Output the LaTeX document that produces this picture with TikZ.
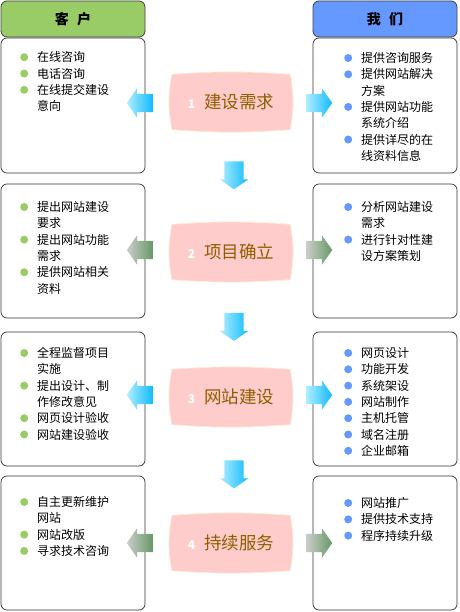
\documentclass[tikz,border=0pt]{standalone}
\usepackage{fontspec}
\setmainfont{Noto Sans CJK SC}
\usetikzlibrary{shapes.arrows, backgrounds, positioning}

\definecolor{cliGreen}{HTML}{99CC66}
\definecolor{ourBlue}{HTML}{6699FF}
\definecolor{stagePink}{HTML}{FFCCCC}
\definecolor{stageEdge}{HTML}{FFEECC}
\definecolor{stageBrown}{HTML}{8F5E00}
\definecolor{arrCyan}{HTML}{11BBFF}
\definecolor{arrPale}{HTML}{B0EEFF}
\definecolor{arrGreen}{HTML}{669966}

\newcommand{\bul}[1]{\tikz[baseline=-4.6pt]\fill[#1] (0,0) circle (4pt);}
\newcommand{\gb}{\bul{cliGreen}}
\newcommand{\bb}{\bul{ourBlue}}
\newcommand{\stnum}[1]{{\color{white}\fontsize{12}{12}\selectfont\bfseries #1}\hspace{9pt}}

\begin{document}
\begin{tikzpicture}[x=1pt, y=-1pt,
  hdr/.style={draw=black!75, line width=0.8pt, rounded corners=6pt,
    minimum width=144pt, minimum height=36pt, font=\fontsize{14}{14}\selectfont\bfseries},
  panel/.style={draw=black!80, line width=0.7pt, rounded corners=6pt,
    minimum width=144pt, minimum height=134pt},
  items/.style={anchor=north west, inner sep=0pt, font=\fontsize{12}{16.3}\selectfont},
  stage/.style={minimum width=118pt, minimum height=55pt, inner sep=0pt,
    text=stageBrown, font=\fontsize{17.5}{20}\selectfont},
  pillow/.style={fill=stagePink, draw=stageEdge, line width=0.6pt},
  sidearrow/.style={single arrow, minimum height=26pt, inner xsep=0pt, inner ysep=9pt,
    single arrow head extend=5.5pt, single arrow tip angle=110},
  blueshade/.style={left color=arrPale, middle color=arrCyan, right color=arrCyan},
  greenshade/.style={left color=gray!40, middle color=arrGreen!75!gray, right color=arrGreen},
  downarrow/.style={sidearrow, rotate=-90, minimum height=28pt, inner ysep=9.5pt,
    single arrow head extend=4.5pt, left color=arrPale, middle color=arrCyan!70!arrPale,
    right color=arrCyan}]
\useasboundingbox (0,0) rectangle (459,612);

% Headers
\node[hdr, fill=cliGreen] (hdrL) at (73,19) {客\hspace{0.6em}户};
\node[hdr, fill=ourBlue] (hdrR) at (385,19) {我\hspace{0.6em}们};

% Client panels
\node[panel, minimum height=135pt] (cliA) at (73,105.5) {};
\node[panel] (cliB) at (73,251) {};
\node[panel] (cliC) at (73,399) {};
\node[panel] (cliD) at (73,543) {};

% Our panels
\node[panel, minimum height=135pt] (ourA) at (385,105.5) {};
\node[panel] (ourB) at (385,251) {};
\node[panel] (ourC) at (385,399) {};
\node[panel] (ourD) at (385,543) {};

% Client lists
\node[items] (listLA) at (20,50.2) {\begin{tabular}{@{}l@{\hspace{9pt}}l@{}}
\gb & 在线咨询\\
\gb & 电话咨询\\
\gb & 在线提交建设\\
    & 意向
\end{tabular}};
\node[items] (listLB) at (20,200) {\begin{tabular}{@{}l@{\hspace{9pt}}l@{}}
\gb & 提出网站建设\\
    & 要求\\
\gb & 提出网站功能\\
    & 需求\\
\gb & 提供网站相关\\
    & 资料
\end{tabular}};
\node[items] (listLC) at (20,346) {\begin{tabular}{@{}l@{\hspace{9pt}}l@{}}
\gb & 全程监督项目\\
    & 实施\\
\gb & 提出设计、制\\
    & 作修改意见\\
\gb & 网页设计验收\\
\gb & 网站建设验收
\end{tabular}};
\node[items] (listLD) at (20,495) {\begin{tabular}{@{}l@{\hspace{9pt}}l@{}}
\gb & 自主更新维护\\
    & 网站\\
\gb & 网站改版\\
\gb & 寻求技术咨询
\end{tabular}};

% Our lists
\node[items] (listRA) at (344,51) {\begin{tabular}{@{}l@{\hspace{9pt}}l@{}}
\bb & 提供咨询服务\\
\bb & 提供网站解决\\
    & 方案\\
\bb & 提供网站功能\\
    & 系统介绍\\
\bb & 提供详尽的在\\
    & 线资料信息
\end{tabular}};
\node[items] (listRB) at (344,200) {\begin{tabular}{@{}l@{\hspace{9pt}}l@{}}
\bb & 分析网站建设\\
    & 需求\\
\bb & 进行针对性建\\
    & 设方案策划
\end{tabular}};
\node[items] (listRC) at (344,346) {\begin{tabular}{@{}l@{\hspace{9pt}}l@{}}
\bb & 网页设计\\
\bb & 功能开发\\
\bb & 系统架设\\
\bb & 网站制作\\
\bb & 主机托管\\
\bb & 域名注册\\
\bb & 企业邮箱
\end{tabular}};
\node[items] (listRD) at (344,496) {\begin{tabular}{@{}l@{\hspace{9pt}}l@{}}
\bb & 网站推广\\
\bb & 提供技术支持\\
\bb & 程序持续升级
\end{tabular}};

% Stages
\node[stage] (stageA) at (231,102) {\stnum{1}建设需求};
\node[stage] (stageB) at (231,252) {\stnum{2}项目确立};
\node[stage] (stageC) at (231,397) {\stnum{3}网站建设};
\node[stage] (stageD) at (231,543) {\stnum{4}持续服务};

\begin{scope}[on background layer]
\foreach \s in {stageA, stageB, stageC, stageD}
  \draw[pillow] (\s.north west) to[bend left=4] (\s.north east)
    to[bend left=10] (\s.south east) to[bend left=4] (\s.south west)
    to[bend left=10] (\s.north west);
\end{scope}

% Side arrows
\node[sidearrow, blueshade, rotate=180] (toCliA) at (143,103) {};
\node[sidearrow, blueshade] (toOurA) at (316,103) {};
\node[sidearrow, greenshade, rotate=180] (toCliB) at (143,250) {};
\node[sidearrow, greenshade] (toOurB) at (316,250) {};
\node[sidearrow, blueshade, rotate=180] (toCliC) at (143,395) {};
\node[sidearrow, blueshade] (toOurC) at (316,395) {};
\node[sidearrow, greenshade, rotate=180] (toCliD) at (143,543) {};
\node[sidearrow, greenshade] (toOurD) at (316,543) {};

% Down arrows
\node[downarrow] (downA) at (234,172) {};
\node[downarrow] (downB) at (234,323.5) {};
\node[downarrow] (downC) at (234,471) {};
\end{tikzpicture}
\end{document}
